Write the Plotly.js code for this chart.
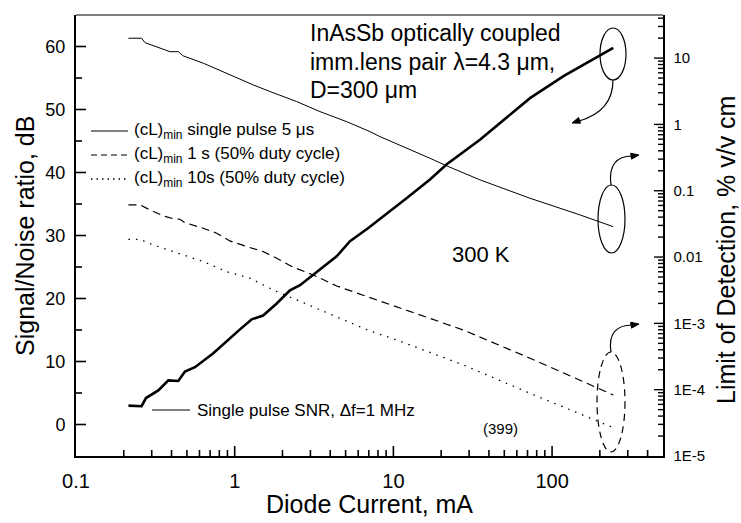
<!DOCTYPE html>
<html><head><meta charset="utf-8">
<script src="https://cdn.plot.ly/plotly-3.0.1.min.js"></script>
<style>html,body{margin:0;padding:0;background:#fff}#c{width:741px;height:523px}</style>
</head><body><div id="c"></div>
<script>
// ---- data ----
const snrCurrent = [0.214,0.259,0.276,0.330,0.382,0.441,0.486,0.562,0.733,0.869,1.08,1.28,1.51,1.84,2.23,2.58,3.13,3.62,4.39,5.33,6.95,12.1,17.0,21.7,35.1,72.6,118,243];
const snrDb      = [3.0,2.9,4.2,5.4,7.0,6.9,8.4,9.1,11.3,13.0,15.1,16.7,17.3,19.2,21.3,22.1,23.8,25.0,26.7,29.1,31.2,35.9,38.9,41.3,45.2,51.8,55.3,59.8];

const cLPulseCurrent = [0.214,0.259,0.272,0.322,0.391,0.441,0.474,0.634,1.03,1.31,1.67,2.46,3.45,5.08,7.12,8.23,17.0,21.7,35.1,72.6,150,243];
const cLPulse        = [19.95,19.95,17.1,14.9,12.5,12.5,10.8,8.38,4.98,3.94,3.13,2.21,1.56,1.10,0.778,0.655,0.309,0.237,0.146,0.077,0.0432,0.0287];

const cL1sCurrent = [0.214,0.253,0.293,0.355,0.410,0.452,0.486,0.634,0.770,0.933,1.19,1.51,1.84,2.34,3.13,4.39,7.12,10.5,27.6,72.6,243];
const cL1s        = [0.0611,0.0611,0.0513,0.0417,0.0379,0.0372,0.0330,0.0272,0.0229,0.0175,0.0144,0.0121,0.0096,0.00701,0.00537,0.00366,0.00245,0.00178,0.000794,0.000298,0.0000832];

const cL10sCurrent = [0.214,0.253,0.307,0.391,0.452,0.634,0.890,1.25,1.75,2.46,3.45,4.83,7.12,10.5,27.6,72.6,240];
const cL10s        = [0.0185,0.0185,0.0152,0.0125,0.0114,0.00853,0.00603,0.00479,0.00319,0.00225,0.00159,0.00112,0.000767,0.000562,0.000236,0.0000883,0.0000271];

const xTickVals = [0.1,1,10,100];
const xTickText = ['0.1','1','10','100'];
const leftTickVals = [0,10,20,30,40,50,60];
const rightTickVals = [10,1,0.1,0.01,0.001,0.0001,0.00001];
const rightTickText = ['10','1','0.1','0.01','1E-3','1E-4','1E-5'];

// ---- geometry helpers (plot box in px) ----
const L=76, T=15, R=663, B=456;
const PW=R-L, PH=B-T;
const px = x => (x-L)/PW;
const py = y => (B-y)/PH;
const pt = (x,y) => px(x)+','+py(y);

const FONT = '"Liberation Sans", Arial, sans-serif';
const XR = [-1, Math.log10(500)];
const YR = [-5, 65];
const YR2 = [-5, 1.65];

const traces = [
  {x:snrCurrent, y:snrDb, type:'scatter', mode:'lines', line:{color:'#000', width:2.6}, yaxis:'y'},
  {x:cLPulseCurrent, y:cLPulse, type:'scatter', mode:'lines', line:{color:'#000', width:1}, yaxis:'y2'},
  {x:cL1sCurrent, y:cL1s, type:'scatter', mode:'lines', line:{color:'#000', width:1.2, dash:'8px,5px'}, yaxis:'y2'},
  {x:cL10sCurrent, y:cL10s, type:'scatter', mode:'lines', line:{color:'#000', width:1.3, dash:'1.5px,6px'}, yaxis:'y2'}
];

function arrowHead(tx,ty,dx,dy){
  const n=Math.hypot(dx,dy); dx/=n; dy/=n;
  const bx=tx-8*dx, by=ty-8*dy, qx=-dy*3, qy=dx*3;
  return {type:'path', xref:'paper', yref:'paper', path:'M'+pt(tx,ty)+' L'+pt(bx+qx,by+qy)+' L'+pt(bx-qx,by-qy)+' Z', fillcolor:'#000', line:{color:'#000', width:1}};
}

// ---- inside tick marks (major + minor), drawn as axis decorations ----
const tickShapes = [];
function tk(x0,y0,x1,y1,w){ tickShapes.push({type:'line', xref:'paper', yref:'paper', x0:x0, y0:y0, x1:x1, y1:y1, line:{color:'#000', width:w}}); }
// bottom log axis
for(let e=-1;e<=2;e++){ for(let k=1;k<=9;k++){ const lv=Math.log10(k*Math.pow(10,e)); if(lv<=XR[0]+1e-9||lv>=XR[1]-1e-9) continue; const f=(lv-XR[0])/(XR[1]-XR[0]); const len=(k===1?10:6)/PH; tk(f,0,f,len,1.6); } }
// left linear axis (major every 10, minor every 5)
for(let v=0; v<YR[1]; v+=5){ const f=(v-YR[0])/(YR[1]-YR[0]); const len=(v%10===0?10:6)/PW; tk(0,f,len,f,1.6); }
// right log axis
for(let e=-5;e<=1;e++){ for(let k=1;k<=9;k++){ const lv=Math.log10(k*Math.pow(10,e)); if(lv<=YR2[0]+1e-9||lv>=YR2[1]-1e-9) continue; const f=(lv-YR2[0])/(YR2[1]-YR2[0]); const len=(k===1?9:5)/PW; tk(1,f,1-len,f,1.4); } }

const shapes = tickShapes.concat([
  {type:'line', xref:'paper', yref:'paper', x0:0, x1:1, y0:1, y1:1, line:{color:'#000', width:1.2}},
  // ellipses
  {type:'circle', xref:'paper', yref:'paper', x0:px(600), x1:px(626), y0:py(80), y1:py(28), line:{color:'#000', width:1.2}},
  {type:'circle', xref:'paper', yref:'paper', x0:px(598), x1:px(625), y0:py(253), y1:py(185), line:{color:'#000', width:1.2}},
  {type:'circle', xref:'paper', yref:'paper', x0:px(597), x1:px(625), y0:py(452), y1:py(352), line:{color:'#000', width:1.2, dash:'7px,5px'}},
  // curved arrows
  {type:'path', xref:'paper', yref:'paper', path:'M'+pt(613,80)+' C'+pt(613,102)+' '+pt(600,115)+' '+pt(579,121), line:{color:'#000', width:1.2}},
  arrowHead(572,123, -10,3.5),
  {type:'path', xref:'paper', yref:'paper', path:'M'+pt(611,185)+' C'+pt(608,165)+' '+pt(617,156)+' '+pt(632,156), line:{color:'#000', width:1.2}},
  arrowHead(639,155, 10,-1.5),
  {type:'path', xref:'paper', yref:'paper', path:'M'+pt(611,352)+' C'+pt(608,333)+' '+pt(617,325)+' '+pt(632,325), line:{color:'#000', width:1.2}},
  arrowHead(639,324, 10,-1.5),
  // legend samples
  {type:'line', xref:'paper', yref:'paper', x0:px(91), x1:px(128), y0:py(131), y1:py(131), line:{color:'#000', width:1}},
  {type:'line', xref:'paper', yref:'paper', x0:px(91), x1:px(128), y0:py(155), y1:py(155), line:{color:'#000', width:1.2, dash:'6px,4px'}},
  {type:'line', xref:'paper', yref:'paper', x0:px(91), x1:px(128), y0:py(179), y1:py(179), line:{color:'#000', width:1.3, dash:'1.5px,4px'}},
  {type:'line', xref:'paper', yref:'paper', x0:px(152), x1:px(190), y0:py(410), y1:py(410), line:{color:'#000', width:1}}
]);

function txt(t, x, y, size, anchor, extra){
  return Object.assign({text:t, xref:'paper', yref:'paper', x:px(x), y:py(y), xanchor:anchor||'left', yanchor:'middle', showarrow:false, font:{family:FONT, size:size, color:'#000'}}, extra||{});
}

const annotations = [
  txt('InAsSb optically coupled', 308, 33, 23),
  txt('imm.lens pair λ=4.3 μm,', 308, 62, 23),
  txt('D=300 μm', 308, 90, 23),
  txt('300 K', 481, 255, 22, 'center'),
  txt('(399)', 500, 428, 15, 'center'),
  txt('(cL)<sub>min</sub> single pulse 5 μs', 132, 131, 17),
  txt('(cL)<sub>min</sub> 1 s (50% duty cycle)', 132, 155, 17),
  txt('(cL)<sub>min</sub> 10s (50% duty cycle)', 132, 179, 17),
  txt('Single pulse SNR, Δf=1 MHz', 195, 410, 17),
  txt('Signal/Noise ratio, dB', 25, 236, 25, 'center', {textangle:-90}),
  txt('Limit of Detection, % v/v cm', 726, 250, 25, 'center', {textangle:-90}),
  txt('Diode Current, mA', 369, 504, 25, 'center')
];

const layout = {
  width:741, height:523,
  margin:{l:L, r:741-R, t:T, b:523-B},
  paper_bgcolor:'#fff', plot_bgcolor:'#fff',
  showlegend:false,
  font:{family:FONT, color:'#000'},
  xaxis:{type:'log', range:XR, tickmode:'array', tickvals:xTickVals, ticktext:xTickText, ticks:'',
         showline:true, linewidth:2, linecolor:'#000', mirror:false, showgrid:false, zeroline:false,
         tickfont:{size:20}, ticklabelstandoff:6},
  yaxis:{range:YR, tickmode:'array', tickvals:leftTickVals, ticks:'',
         showline:true, linewidth:2, linecolor:'#000', showgrid:false, zeroline:false,
         tickfont:{size:18}, ticklabelstandoff:5},
  yaxis2:{type:'log', overlaying:'y', anchor:'x', side:'right', range:YR2, tickmode:'array', tickvals:rightTickVals, ticktext:rightTickText, ticks:'',
         showline:true, linewidth:1.5, linecolor:'#000', showgrid:false, zeroline:false,
         tickfont:{size:15}, ticklabelstandoff:6},
  shapes:shapes,
  annotations:annotations
};

Plotly.newPlot('c', traces, layout, {staticPlot:true, displayModeBar:false});
</script>
</body></html>
